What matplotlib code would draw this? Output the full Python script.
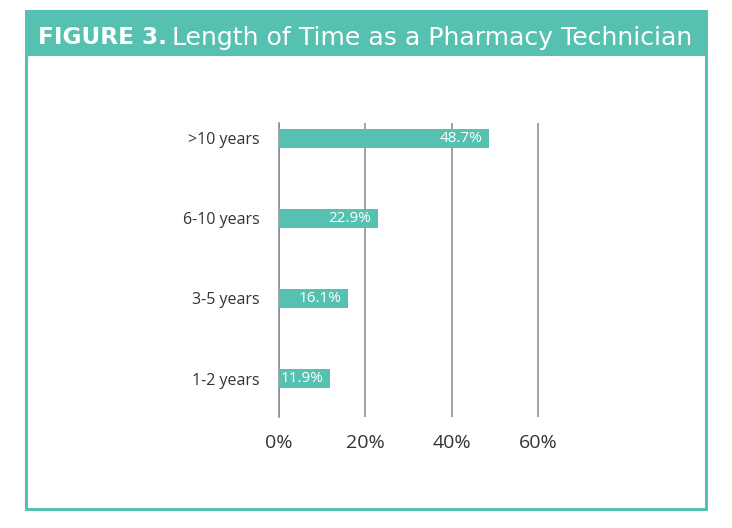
import matplotlib
matplotlib.use("Agg")
import matplotlib.pyplot as plt
from matplotlib.patches import Rectangle

# data
categories = ["1-2 years", "3-5 years", "6-10 years", ">10 years"]
values = [11.9, 16.1, 22.9, 48.7]
xticks = [0, 20, 40, 60]

TEAL = "#56C1B0"
GRID = "#8a8a8a"
TEXT = "#333333"
plt.rcParams["font.family"] = ["Open Sans", "DejaVu Sans"]

W, H = 732, 528
fig = plt.figure(figsize=(W / 100, H / 100), dpi=100)

# frame + header band
fx0, fx1 = 26 / W, 706 / W
fy0, fy1 = 1 - 509 / H, 1 - 11 / H
fig.patches.append(Rectangle((fx0, fy0), fx1 - fx0, fy1 - fy0, transform=fig.transFigure,
                             fill=False, edgecolor=TEAL, linewidth=2.2))
fig.patches.append(Rectangle((fx0, 1 - 56 / H), fx1 - fx0, 45 / H, transform=fig.transFigure,
                             facecolor=TEAL, edgecolor="none"))


def fit_size(text, width_px, **kw):
    # font size that makes `text` about width_px wide
    probe = fig.text(0, 0, text, fontsize=16, **kw)
    fig.canvas.draw()
    w = probe.get_window_extent().width
    probe.remove()
    return 16 * width_px / w


title_font = ["DejaVu Sans"]
lead, rest = "FIGURE 3.", "Length of Time as a Pharmacy Technician"
s1 = fit_size(lead, 128, family=title_font, fontweight="bold")
s2 = fit_size(rest, 521, family=title_font)

fig.text(38 / W, 1 - 35 / H, lead, color="white", fontsize=s1,
         family=title_font, fontweight="bold", va="center_baseline", ha="left")
fig.text(172 / W, 1 - 35 / H, rest, color="white", fontsize=s2,
         family=title_font, va="center_baseline", ha="left")

ax = fig.add_axes([279 / W, 1 - 417 / H, (538 - 279) / W * 61 / 60, (417 - 123) / H])
ypos = list(range(len(categories)))
ax.barh(ypos, values, height=0.24, color=TEAL, zorder=3)
for y, v in zip(ypos, values):
    ax.text(v - 1.5, y, f"{v}%", color="white", fontsize=11, ha="right", va="center", zorder=4)

ax.set_xlim(0, 61)
ax.set_ylim(-0.48, 3.19)
ax.set_xticks(xticks)
ax.set_xticklabels([f"{t}%" for t in xticks], fontsize=14, color=TEXT)
ax.set_yticks(ypos)
ax.set_yticklabels(categories, fontsize=11.5, color=TEXT)
ax.tick_params(axis="both", length=0)
ax.tick_params(axis="x", pad=12)
ax.tick_params(axis="y", pad=14)
ax.grid(axis="x", color=GRID, linewidth=1.1, zorder=0)
for s in ["top", "right", "bottom"]:
    ax.spines[s].set_visible(False)
ax.spines["left"].set_color(GRID)
ax.spines["left"].set_linewidth(1.1)

fig.savefig("out.png", dpi=100)
